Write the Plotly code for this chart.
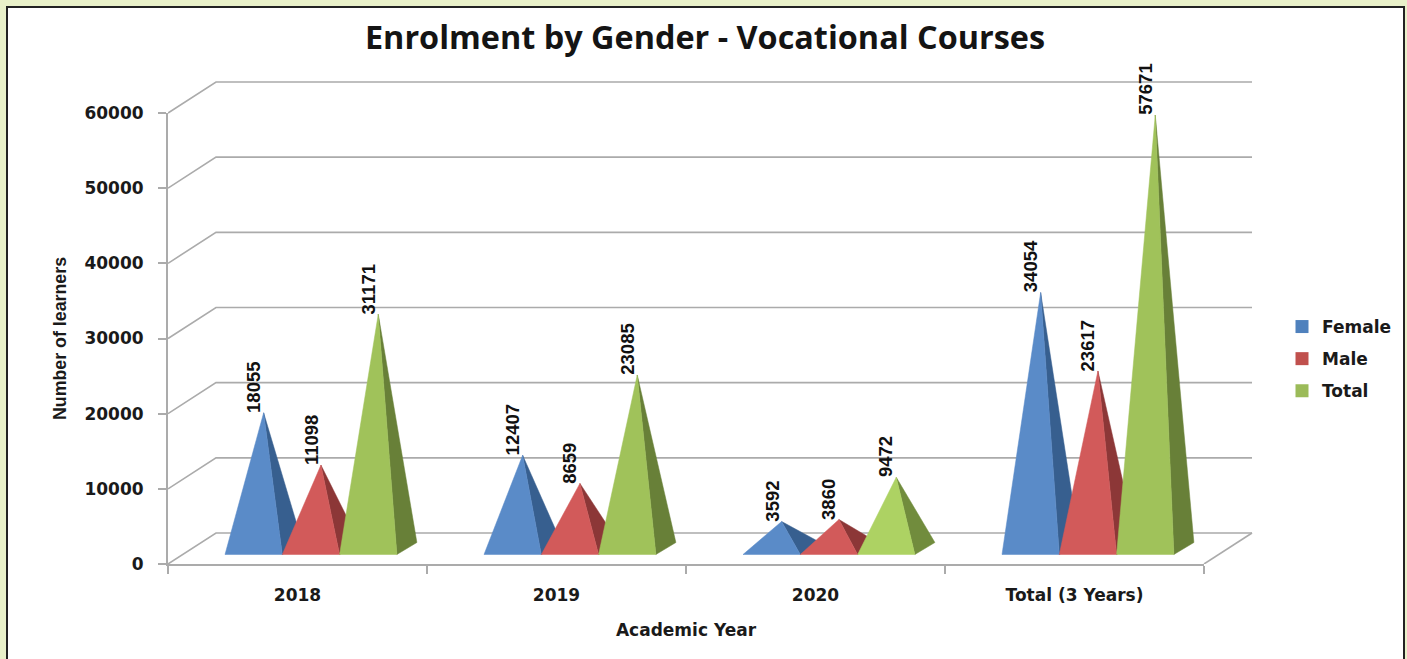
import plotly.graph_objects as go

# ---- data ----
categories = ["2018", "2019", "2020", "Total (3 Years)"]
female = [18055, 12407, 3592, 34054]
male = [11098, 8659, 3860, 23617]
total = [31171, 23085, 9472, 57671]
y_ticks = [0, 10000, 20000, 30000, 40000, 50000, 60000]

series_names = ["Female", "Male", "Total"]
series_values = [female, male, total]
front_colors = ["#5A8BC8", "#D25A5A", "#A0C25A"]
side_colors = ["#375F8F", "#8C3737", "#688038"]
legend_colors = ["#4F81BD", "#C0504D", "#9BBB59"]
# the 2020 Total pyramid is drawn in a lighter green in the source
lighter_front = {(2, 2): "#ADD263"}
lighter_side = {(2, 2): "#718C3D"}

# ---- page geometry, pixels ----
W, H = 1407, 659
X0, X1 = 168, 1204        # front floor edge
Y0, Y60 = 564, 113        # value 0 and value 60000 on the front axis
WALL_DX, WALL_DY = 48, 31 # oblique offset of the back wall
TOP_PAD = 4

CAT_PX = (X1 - X0) / len(categories)
VAL_PX = (Y0 - Y60) / 60000

# oblique projection in data units
wall_dx = WALL_DX / CAT_PX
wall_dy = WALL_DY / VAL_PX
base_start = 57 / CAT_PX       # first pyramid's left edge inside a category
base_w = 57.3 / CAT_PX         # width of a pyramid base
base_lift_y = 9.5 / VAL_PX     # position of the bases on the floor
depth_x = 20 / CAT_PX          # depth of a pyramid base
depth_y = 12 / VAL_PX

fig = go.Figure()

# Invisible trace that keeps the category axis alive
fig.add_trace(go.Scatter(x=categories, y=[0] * len(categories), mode="none",
                         xaxis="x", yaxis="y", showlegend=False, hoverinfo="skip"))

GRID = "#ABABAB"
n = len(categories)
# Walls and floor
for v in y_ticks:
    fig.add_trace(go.Scatter(
        x=[0, wall_dx, n + wall_dx], y=[v, v + wall_dy, v + wall_dy],
        mode="lines", line=dict(color=GRID, width=1.6), xaxis="x2", yaxis="y2",
        showlegend=False, hoverinfo="skip"))
fig.add_trace(go.Scatter(
    x=[n, n + wall_dx], y=[0, wall_dy], mode="lines",
    line=dict(color=GRID, width=1.6), xaxis="x2", yaxis="y2",
    showlegend=False, hoverinfo="skip"))

LABEL_FONT = "Liberation Sans"
annotations = []
for c in range(n):
    for s, (name, vals) in enumerate(zip(series_names, series_values)):
        left = c + base_start + s * base_w
        right = left + base_w
        by = base_lift_y
        v = vals[c]
        ax = (left + right) / 2 + depth_x / 2
        ay = by + depth_y / 2 + v
        front = lighter_front.get((c, s), front_colors[s])
        side = lighter_side.get((c, s), side_colors[s])
        # right-hand face, then front face
        fig.add_trace(go.Scatter(
            x=[right, right + depth_x, ax, right], y=[by, by + depth_y, ay, by],
            mode="lines", fill="toself", fillcolor=side, line=dict(color=side, width=0.5),
            xaxis="x2", yaxis="y2", showlegend=False, legendgroup=name,
            hoverinfo="skip"))
        fig.add_trace(go.Scatter(
            x=[left, right, ax, left], y=[by, by, ay, by],
            mode="lines", fill="toself", fillcolor=front, line=dict(color=front, width=0.5),
            xaxis="x2", yaxis="y2", showlegend=False, legendgroup=name,
            name=name, text=f"{categories[c]}: {v}", hoverinfo="text"))
        annotations.append(dict(
            x=ax, y=ay, xref="x2", yref="y2", text=str(v), showarrow=False,
            textangle=-90, xanchor="center", yanchor="bottom", xshift=-10, yshift=-2,
            font=dict(family=LABEL_FONT, size=18.5, color="#111111", weight="bold")))

# Legend proxies
for name, col in zip(series_names, legend_colors):
    fig.add_trace(go.Scatter(
        x=[None], y=[None], mode="markers", name=name, legendgroup=name,
        marker=dict(symbol="square", size=13, color=col), xaxis="x2", yaxis="y2"))

TICK_FONT = dict(family="DejaVu Sans", size=17, color="#1A1A1A", weight="bold")

fig.update_layout(
    width=W, height=H, margin=dict(l=0, r=0, t=0, b=0, autoexpand=False), autosize=False,
    paper_bgcolor="#E9F1C9", plot_bgcolor="rgba(0,0,0,0)",
    title=dict(text="<b>Enrolment by Gender - Vocational Courses</b>",
               x=705 / W, xanchor="center", y=1 - 38 / H, yanchor="middle",
               font=dict(family="Open Sans", size=32.4, color="#141414")),
    xaxis=dict(domain=[X0 / W, X1 / W], anchor="y", type="category",
               categoryorder="array", categoryarray=categories,
               range=[-0.5, n - 0.5], tickson="boundaries", ticks="outside",
               ticklen=8, tickwidth=1.5, tickcolor=GRID, showline=True, linecolor=GRID,
               linewidth=2, showgrid=False, zeroline=False, tickfont=TICK_FONT,
               ticklabelstandoff=15,
               title=dict(text="<b>Academic Year</b>", standoff=20,
                          font=dict(family="DejaVu Sans", size=17, color="#1A1A1A"))),
    yaxis=dict(domain=[1 - Y0 / H, 1 - Y60 / H], anchor="x", range=[0, 60000],
               tickvals=y_ticks, tickformat="d", ticks="outside", ticklen=8, tickwidth=1.5,
               tickcolor=GRID, showline=True, linecolor=GRID, linewidth=2, showgrid=False,
               zeroline=False, tickfont=TICK_FONT, ticklabelstandoff=11,
               title=dict(text="<b>Number of learners</b>", standoff=13,
                          font=dict(family=LABEL_FONT, size=17.8, color="#1A1A1A"))),
    xaxis2=dict(domain=[X0 / W, (X1 + WALL_DX + 1) / W], anchor="y2",
                range=[0, n + (WALL_DX + 1) / CAT_PX], visible=False),
    yaxis2=dict(domain=[1 - Y0 / H, 1 - (Y60 - WALL_DY - TOP_PAD) / H], anchor="x2",
                range=[0, 60000 + (WALL_DY + TOP_PAD) / VAL_PX], visible=False),
    legend=dict(x=1282 / W, y=1 - 309 / H, xanchor="left", yanchor="top",
                bgcolor="rgba(0,0,0,0)", tracegroupgap=7, traceorder="grouped",
                font=TICK_FONT, itemwidth=30),
    annotations=annotations,
    shapes=[dict(type="rect", xref="paper", yref="paper", layer="below",
                 x0=7 / W, x1=1404 / W, y0=-0.05, y1=1 - 7 / H,
                 fillcolor="#FFFFFF", line=dict(color="#222222", width=2))],
)

fig.write_html("out.html", config={"displayModeBar": False},
               post_script="document.body.style.margin='0';document.body.style.overflow='hidden';")
